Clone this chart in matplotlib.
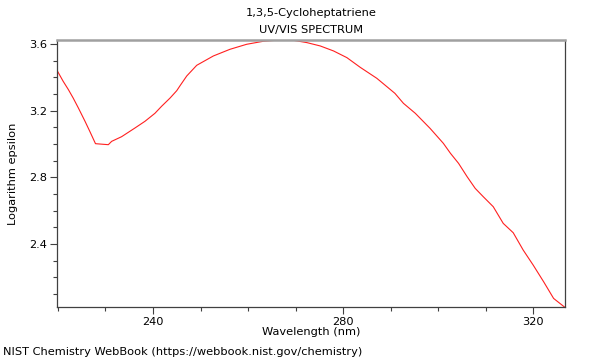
import matplotlib
matplotlib.use("Agg")
import matplotlib.pyplot as plt
from matplotlib.ticker import MultipleLocator

wavelength = [219.8, 221.1, 222.2, 223.2, 224.3, 225.7, 226.7, 227.9, 230.6, 231.3,
              233.4, 236.2, 238.3, 240.4, 241.8, 243.6, 245.0, 245.7, 247.1, 249.2,
              252.7, 256.2, 259.7, 263.2, 266.7, 269.5, 272.4, 275.2, 278.0, 280.8,
              283.6, 287.1, 290.9, 292.7, 295.2, 298.3, 301.1, 302.6, 304.3, 306.1,
              307.8, 309.5, 311.6, 313.7, 315.8, 317.9, 320.0, 322.2, 324.3, 326.7]
log_epsilon = [3.442, 3.376, 3.326, 3.276, 3.216, 3.136, 3.076, 3.002, 2.996, 3.016,
               3.044, 3.096, 3.136, 3.184, 3.226, 3.276, 3.320, 3.350, 3.408, 3.472,
               3.528, 3.568, 3.598, 3.616, 3.624, 3.622, 3.608, 3.588, 3.558, 3.518,
               3.460, 3.394, 3.304, 3.244, 3.184, 3.094, 3.004, 2.944, 2.884, 2.804,
               2.734, 2.684, 2.624, 2.524, 2.468, 2.364, 2.274, 2.174, 2.074, 2.020]

title_lines = ["1,3,5-Cycloheptatriene", "UV/VIS SPECTRUM"]
x_label = "Wavelength (nm)"
y_label = "Logarithm epsilon"
footer = "NIST Chemistry WebBook (https://webbook.nist.gov/chemistry)"

FS = 8.2
plt.rcParams['font.family'] = ['DejaVu Sans']
fig = plt.figure(figsize=(6, 3.6), dpi=100)
ax = fig.add_axes([0.095, 0.146, 0.8467, 0.743])
ax.plot(wavelength, log_epsilon, color='#ff2020', lw=0.8)
ax.set_xlim(219.8, 326.7)
ax.set_ylim(2.02, 3.624)

ax.xaxis.set_major_locator(MultipleLocator(40))
ax.xaxis.set_minor_locator(MultipleLocator(10))
ax.yaxis.set_major_locator(MultipleLocator(0.4))
ax.yaxis.set_minor_locator(MultipleLocator(0.1))
ax.xaxis.set_major_formatter(matplotlib.ticker.FuncFormatter(lambda v, p: f"{v:.0f}"))
ax.yaxis.set_major_formatter(matplotlib.ticker.FuncFormatter(lambda v, p: f"{v:.1f}"))
ax.tick_params(which='major', length=5, width=0.8, color='#404040', labelsize=FS, pad=2)
ax.tick_params(which='minor', length=3, width=0.8, color='#404040')

for s in ['left', 'bottom', 'right']:
    ax.spines[s].set_color('#404040')
    ax.spines[s].set_linewidth(0.9)
ax.spines['top'].set_color('#a0a0a0')
ax.spines['top'].set_linewidth(1.8)

ax.set_xlabel(x_label, fontsize=FS, labelpad=0)
ax.set_ylabel(y_label, fontsize=FS, labelpad=8)
fig.text(0.518, 1 - 13/360, title_lines[0], ha='center', va='center', fontsize=FS)
fig.text(0.518, 1 - 30/360, title_lines[1], ha='center', va='center', fontsize=FS)
fig.text(3/600, 1 - 352/360, footer, ha='left', va='center', fontsize=FS)

fig.savefig("out.png", dpi=100)
